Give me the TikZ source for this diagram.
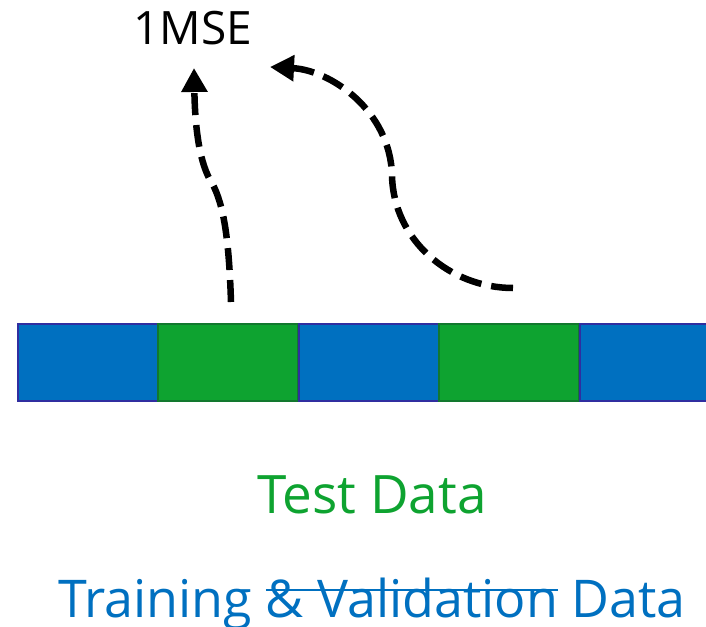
\documentclass[tikz,border=0pt]{standalone}
\usepackage{fontspec}
\setmainfont{Open Sans}
\usetikzlibrary{arrows.meta}
\definecolor{dataBlue}{RGB}{0,112,192}
\definecolor{dataBlueEdge}{RGB}{48,46,160}
\definecolor{dataGreen}{RGB}{14,163,48}
\definecolor{dataGreenEdge}{RGB}{18,120,46}
\newsavebox\strikebox
\newcommand\struckout[1]{\sbox\strikebox{#1}\rlap{\rule[0.5em]{\wd\strikebox}{2pt}}\usebox\strikebox}

\begin{document}
\begin{tikzpicture}[
    x=1pt, y=-1pt,
    trainbox/.style={draw=dataBlueEdge, fill=dataBlue, line width=2pt, minimum width=140pt, minimum height=77pt, inner sep=0pt},
    testbox/.style={draw=dataGreenEdge, fill=dataGreen, line width=2pt, minimum width=140pt, minimum height=77pt, inner sep=0pt},
    scorearrow/.style={draw=black, line width=6.5pt, dash pattern=on 22pt off 10pt, -{Triangle[length=24pt, width=25pt]}}
]
\useasboundingbox (0,0) rectangle (706,626);
\clip (0,0) rectangle (706,626);
\node (train_block_a) [trainbox] at (87.5,362) {};
\node (test_block_a) [testbox] at (228,362) {};
\node (train_block_b) [trainbox] at (368.5,362) {};
\node (test_block_b) [testbox] at (509,362) {};
\node (train_block_c) [trainbox, anchor=west] at (579,362) {};
\node (mse_label) [anchor=base, font=\fontsize{46}{55}\selectfont] at (193,45) {1MSE};
\node (test_label) [anchor=base, text=dataGreen, font=\fontsize{53}{63}\selectfont] at (372,513) {Test Data};
\node (train_label) [anchor=base, text=dataBlue, font=\fontsize{52}{62}\selectfont] at (372,617) {Training \struckout{\& Validation} Data};
\coordinate (score_start_a) at (231,302);
\coordinate (score_tip_a) at (194,68);
\coordinate (score_start_b) at (513,288);
\coordinate (score_tip_b) at (270,67);
\draw[scorearrow] (score_start_a) .. controls (229,240) and (224,205) .. (212,183) .. controls (200,165) and (195,130) .. (score_tip_a);
\draw[scorearrow] (score_start_b) .. controls (450,288) and (393,240) .. (392,175) .. controls (390,110) and (330,70) .. (score_tip_b);
\end{tikzpicture}
\end{document}
